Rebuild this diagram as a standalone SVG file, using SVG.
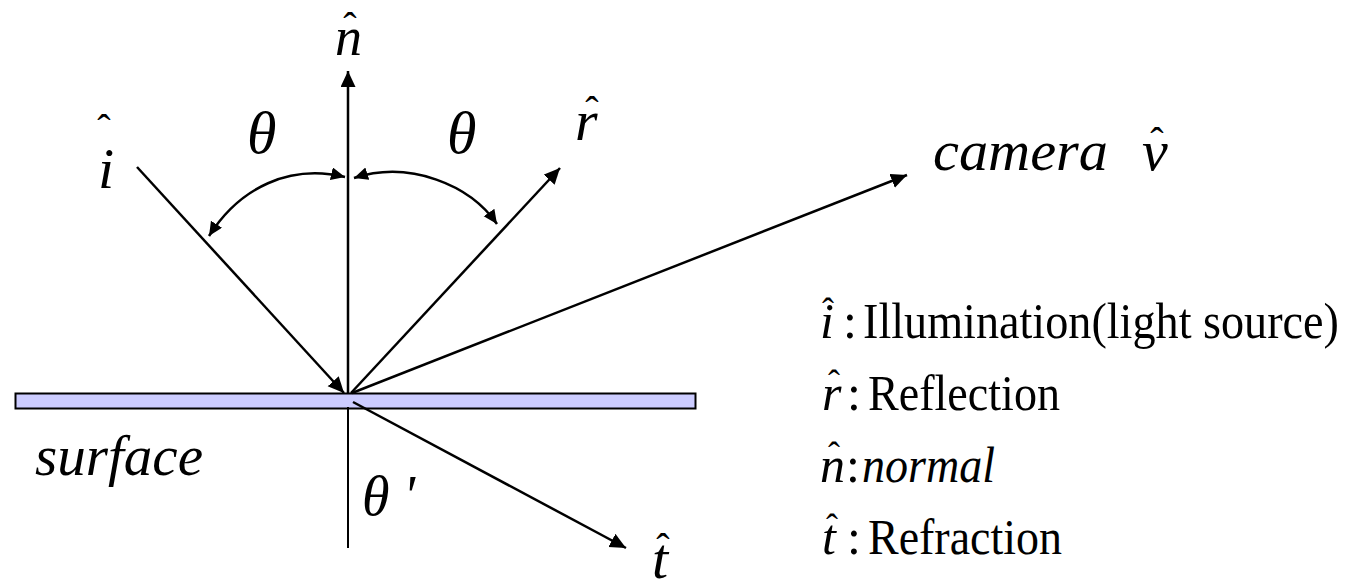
<svg xmlns="http://www.w3.org/2000/svg" width="1369" height="583" viewBox="0 0 1369 583" font-family="Liberation Serif, Times New Roman, serif">
<style>
text{font-family:"Liberation Serif",serif}
.it{font-style:italic;fill:#000}
.rm{font-style:normal;fill:#000}
.ln{stroke:#000;stroke-width:2.5;fill:none}
.thin{stroke:#000;stroke-width:2;fill:none}
</style>
<defs>
<marker id="ah" markerUnits="userSpaceOnUse" markerWidth="18" markerHeight="16" refX="16" refY="7.5" orient="auto-start-reverse">
<path d="M0,0 L16,7.5 L0,15 z" fill="#000"/>
</marker>
<marker id="ahs" markerUnits="userSpaceOnUse" markerWidth="16" markerHeight="14" refX="14" refY="6.5" orient="auto-start-reverse">
<path d="M0,0 L14,6.5 L0,13 z" fill="#000"/>
</marker>
</defs>
<rect width="1369" height="583" fill="#fff"/>
<g id="surface">
<rect x="15.5" y="393.5" width="680" height="15" fill="#ccccff" stroke="#000" stroke-width="2"/>
</g>
<g id="connectors">
<line class="ln" x1="348" y1="393" x2="348" y2="71" marker-end="url(#ah)"/>
<line class="thin" x1="348" y1="407" x2="348" y2="548"/>
<line class="ln" x1="137" y1="167" x2="344" y2="393" marker-end="url(#ah)"/>
<line class="ln" x1="351" y1="393" x2="560" y2="168" marker-end="url(#ah)"/>
<line class="ln" x1="352" y1="393" x2="907" y2="175" marker-end="url(#ah)"/>
<line class="ln" x1="353" y1="402" x2="626" y2="548" marker-end="url(#ah)"/>
<path class="ln" d="M209,236 C240,187 290,164 345,177" marker-start="url(#ahs)" marker-end="url(#ahs)"/>
<path class="ln" d="M354,178 C410,160 470,185 497,224" marker-start="url(#ahs)" marker-end="url(#ahs)"/>
</g>
<g id="label-n">
<text class="it" x="335" y="55" font-size="54">n</text>
<text class="rm" x="350" y="40" font-size="40" text-anchor="middle">ˆ</text>
</g>
<g id="label-i">
<text class="it" x="98" y="188" font-size="58">i</text>
<text class="rm" x="104" y="142" font-size="40" text-anchor="middle">ˆ</text>
</g>
<g id="label-r">
<text class="it" x="575" y="140" font-size="58">r</text>
<text class="rm" x="592" y="124" font-size="40" text-anchor="middle">ˆ</text>
</g>
<g id="label-theta1"><text class="it" x="247" y="153" font-size="60">θ</text></g>
<g id="label-theta2"><text class="it" x="447" y="153" font-size="60">θ</text></g>
<g id="label-camera">
<text class="it" x="933" y="170" font-size="58" textLength="175" lengthAdjust="spacingAndGlyphs">camera</text>
<text class="it" x="1142" y="170" font-size="58">v</text>
<text class="rm" x="1157" y="155" font-size="40" text-anchor="middle">ˆ</text>
</g>
<g id="label-surface"><text class="it" x="35" y="475" font-size="56" textLength="168" lengthAdjust="spacingAndGlyphs">surface</text></g>
<g id="label-thetap"><text class="it" x="362" y="515" font-size="56">θ<tspan x="403">'</tspan></text></g>
<g id="label-t">
<text class="it" x="652" y="578" font-size="58">t</text>
<text class="rm" x="663" y="561" font-size="40" text-anchor="middle">ˆ</text>
</g>
<g id="legend">
<text class="it" x="820" y="338" font-size="50">i</text>
<text class="rm" x="828" y="323" font-size="36" text-anchor="middle">ˆ</text>
<text class="rm" x="843" y="338" font-size="50">:</text>
<text class="rm" x="863" y="338" font-size="50" textLength="476" lengthAdjust="spacingAndGlyphs">Illumination(light source)</text>
<text class="it" x="822" y="410" font-size="50">r</text>
<text class="rm" x="834" y="395" font-size="36" text-anchor="middle">ˆ</text>
<text class="rm" x="847" y="410" font-size="50">:</text>
<text class="rm" x="868" y="410" font-size="50" textLength="192" lengthAdjust="spacingAndGlyphs">Reflection</text>
<text class="it" x="820" y="482" font-size="50">n</text>
<text class="rm" x="834" y="467" font-size="36" text-anchor="middle">ˆ</text>
<text class="rm" x="846" y="482" font-size="50">:</text>
<text class="it" x="862" y="482" font-size="50" textLength="133" lengthAdjust="spacingAndGlyphs">normal</text>
<text class="it" x="822" y="554" font-size="50">t</text>
<text class="rm" x="832" y="539" font-size="36" text-anchor="middle">ˆ</text>
<text class="rm" x="847" y="554" font-size="50">:</text>
<text class="rm" x="868" y="554" font-size="50" textLength="194" lengthAdjust="spacingAndGlyphs">Refraction</text>
</g>
</svg>
